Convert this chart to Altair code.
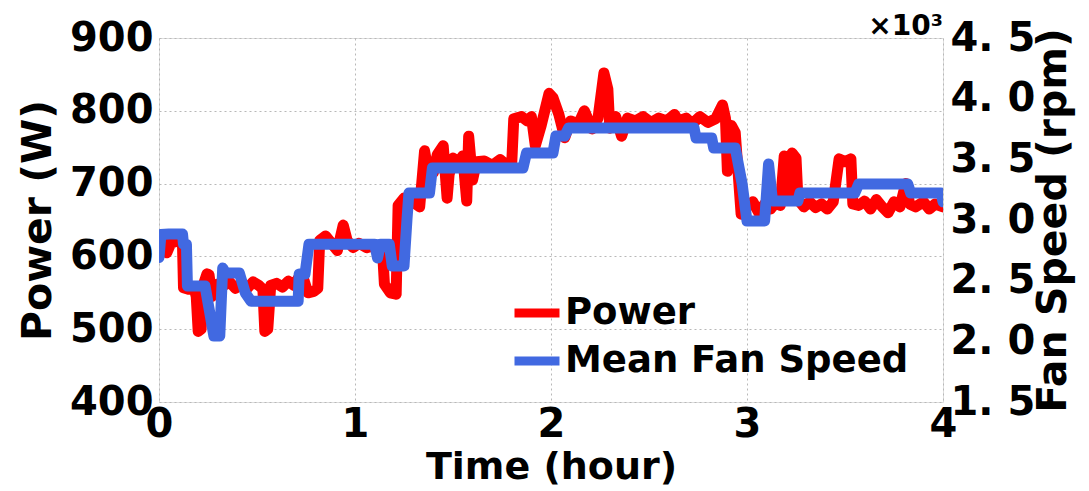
import altair as alt
import pandas as pd

# Power series (hours, W)
power_t = [0.00, 0.02, 0.04, 0.06, 0.10, 0.12, 0.125, 0.15, 0.18, 0.19, 0.20, 0.215, 0.225, 0.245, 0.255,
           0.27, 0.285, 0.30, 0.33, 0.36, 0.39, 0.42, 0.45, 0.48, 0.51, 0.53, 0.54, 0.555, 0.57, 0.60,
           0.63, 0.66, 0.69, 0.71, 0.74, 0.76, 0.79, 0.81, 0.82, 0.85, 0.88, 0.91, 0.94, 0.96, 0.99,
           1.02, 1.06, 1.10, 1.14, 1.15, 1.18, 1.21, 1.22, 1.25, 1.29, 1.33, 1.355, 1.37, 1.40, 1.42,
           1.45, 1.47, 1.48, 1.50, 1.53, 1.55, 1.57, 1.58, 1.60, 1.62, 1.66, 1.70, 1.74, 1.78, 1.80,
           1.81, 1.85, 1.88, 1.90, 1.92, 1.95, 1.99, 2.01, 2.04, 2.07, 2.10, 2.14, 2.17, 2.21, 2.24,
           2.27, 2.29, 2.30, 2.33, 2.36, 2.39, 2.43, 2.47, 2.51, 2.55, 2.59, 2.63, 2.65, 2.69, 2.72,
           2.76, 2.80, 2.84, 2.875, 2.89, 2.90, 2.92, 2.94, 2.97, 3.00, 3.03, 3.06, 3.09, 3.12, 3.15,
           3.17, 3.19, 3.21, 3.23, 3.25, 3.26, 3.29, 3.32, 3.35, 3.38, 3.41, 3.44, 3.47, 3.50, 3.53,
           3.54, 3.57, 3.60, 3.63, 3.66, 3.69, 3.72, 3.75, 3.78, 3.81, 3.83, 3.86, 3.90, 3.93, 3.96, 4.00]
power_w = [612, 620, 605, 618, 622, 615, 557, 555, 555, 545, 497, 500, 560, 576, 575,
           545, 555, 562, 560, 565, 556, 562, 556, 565, 560, 555, 497, 500, 560, 563,
           558, 566, 560, 570, 567, 550, 552, 556, 622, 628, 618, 608, 643, 622, 612,
           618, 612, 615, 610, 562, 550, 548, 670, 680, 676, 668, 745, 722, 715, 740,
           752, 680, 712, 735, 730, 738, 676, 765, 705, 730, 731, 725, 733, 724, 730,
           789, 792, 786, 792, 752, 780, 824, 818, 795, 763, 786, 782, 800, 775, 790,
           852, 830, 776, 792, 765, 790, 786, 792, 784, 790, 786, 795, 786, 790, 782,
           792, 784, 789, 808, 790, 717, 780, 770, 658, 668, 675, 660, 672, 665, 675,
           670, 738, 685, 742, 735, 678, 668, 675, 667, 672, 665, 675, 734, 730, 734,
           672, 670, 676, 665, 678, 668, 660, 675, 668, 700, 672, 668, 675, 665, 672, 668]

# Mean fan speed series (hours, rpm)
fan_t = [0.00, 0.01, 0.05, 0.12, 0.125, 0.14, 0.145, 0.235, 0.28, 0.31, 0.325, 0.34, 0.41, 0.44, 0.47,
         0.71, 0.715, 0.745, 0.765, 1.10, 1.115, 1.13, 1.175, 1.19, 1.25, 1.265, 1.275, 1.38, 1.395,
         1.857, 1.875, 2.01, 2.025, 2.07, 2.09, 2.73, 2.74, 2.82, 2.83, 2.94, 2.975, 3.00, 3.09, 3.11,
         3.13, 3.26, 3.27, 3.55, 3.57, 3.82, 3.835, 3.99, 4.00]
fan_rpm = [2690, 2880, 2885, 2885, 2800, 2800, 2456, 2456, 2044, 2044, 2604, 2563, 2563, 2400, 2330,
           2330, 2555, 2555, 2800, 2800, 2687, 2800, 2800, 2620, 2620, 3000, 3222, 3222, 3429,
           3429, 3552, 3552, 3692, 3692, 3758, 3758, 3676, 3676, 3593, 3593, 3300, 2992, 2992, 3462,
           3157, 3157, 3222, 3222, 3297, 3297, 3222, 3222, 3150]

series_names = ["Power", "Mean Fan Speed"]
series_colors = ["#ff0000", "#4169e1"]
power_ticks = [400, 500, 600, 700, 800, 900]
fan_ticks = [1500, 2000, 2500, 3000, 3500, 4000, 4500]
time_ticks = [0, 1, 2, 3, 4]

FONT = "DejaVu Sans"

power_df = pd.DataFrame({"t": power_t, "v": power_w, "series": "Power"})
fan_df = pd.DataFrame({"t": fan_t, "v": fan_rpm, "series": "Mean Fan Speed"})

color = alt.Color(
    "series:N",
    scale=alt.Scale(domain=series_names, range=series_colors),
    sort=series_names,
    legend=alt.Legend(
        title=None, orient="none", legendX=351, legendY=248,
        symbolType="stroke", symbolSize=2025, symbolStrokeWidth=9,
        labelFontSize=37, labelFont=FONT, labelFontWeight="bold", labelColor="black",
        labelOffset=1, rowPadding=3, labelLimit=500,
    ),
)

xenc = alt.X(
    "t:Q",
    scale=alt.Scale(domain=[0, 4], nice=False, zero=False),
    axis=alt.Axis(
        title="Time (hour)", values=time_ticks, format="d", grid=True,
        gridDash=[2, 3], gridColor="#b8b8b8", gridWidth=1,
        labelFontSize=40, labelFont=FONT, labelFontWeight="bold", labelColor="black",
        labelFlush=False, labelPadding=2, ticks=False, domain=False,
        titleFontSize=38, titleFont=FONT, titleFontWeight="bold", titleColor="black",
        titlePadding=4,
    ),
)

power_line = alt.Chart(power_df).mark_line(
    strokeWidth=11, strokeJoin="round", strokeCap="round", clip=True
).encode(
    x=xenc,
    y=alt.Y(
        "v:Q",
        scale=alt.Scale(domain=[400, 900], nice=False, zero=False),
        axis=alt.Axis(
            title="Power (W)", values=power_ticks, orient="left", grid=True,
            gridDash=[2, 3], gridColor="#b8b8b8", gridWidth=1,
            labelFontSize=40, labelFont=FONT, labelFontWeight="bold", labelColor="black",
            labelFlush=False, labelPadding=6, ticks=False, domain=False,
            titleFontSize=41, titleFont=FONT, titleFontWeight="bold", titleColor="black",
            titlePadding=10,
        ),
    ),
    color=color,
)

fan_line = alt.Chart(fan_df).mark_line(
    strokeWidth=11, strokeJoin="round", strokeCap="round", clip=True
).encode(
    x=xenc,
    y=alt.Y(
        "v:Q",
        scale=alt.Scale(domain=[1500, 4500], nice=False, zero=False),
        axis=alt.Axis(
            title="Fan Speed (rpm)", values=fan_ticks, orient="right", grid=False,
            labelExpr="replace(format(datum.value / 1000, '.1f'), '.', '. ')",
            labelFontSize=40, labelFont=FONT, labelFontWeight="bold", labelColor="black",
            labelFlush=False, labelPadding=7, ticks=False, domain=False,
            titleFontSize=41, titleFont=FONT, titleFontWeight="bold", titleColor="black",
            titleAngle=270, titleX=110, titleY=182, titleAlign="center", titleBaseline="middle",
        ),
    ),
    color=color,
)

chart = alt.layer(power_line, fan_line).resolve_scale(y="independent").properties(
    width=784,
    height=364,
    autosize=alt.AutoSizeParams(type="none"),
    padding={"left": 151, "top": 30, "right": 135, "bottom": 88},
    title=alt.TitleParams(
        text="×10³", anchor="end", frame="group", fontSize=28, font=FONT, fontWeight="bold",
        color="black", offset=4, dy=27,
    ),
).configure_view(
    stroke="#444", strokeWidth=1.5
).configure(background="white")

chart.save("out.html", embed_options={"renderer": "svg", "actions": False})
